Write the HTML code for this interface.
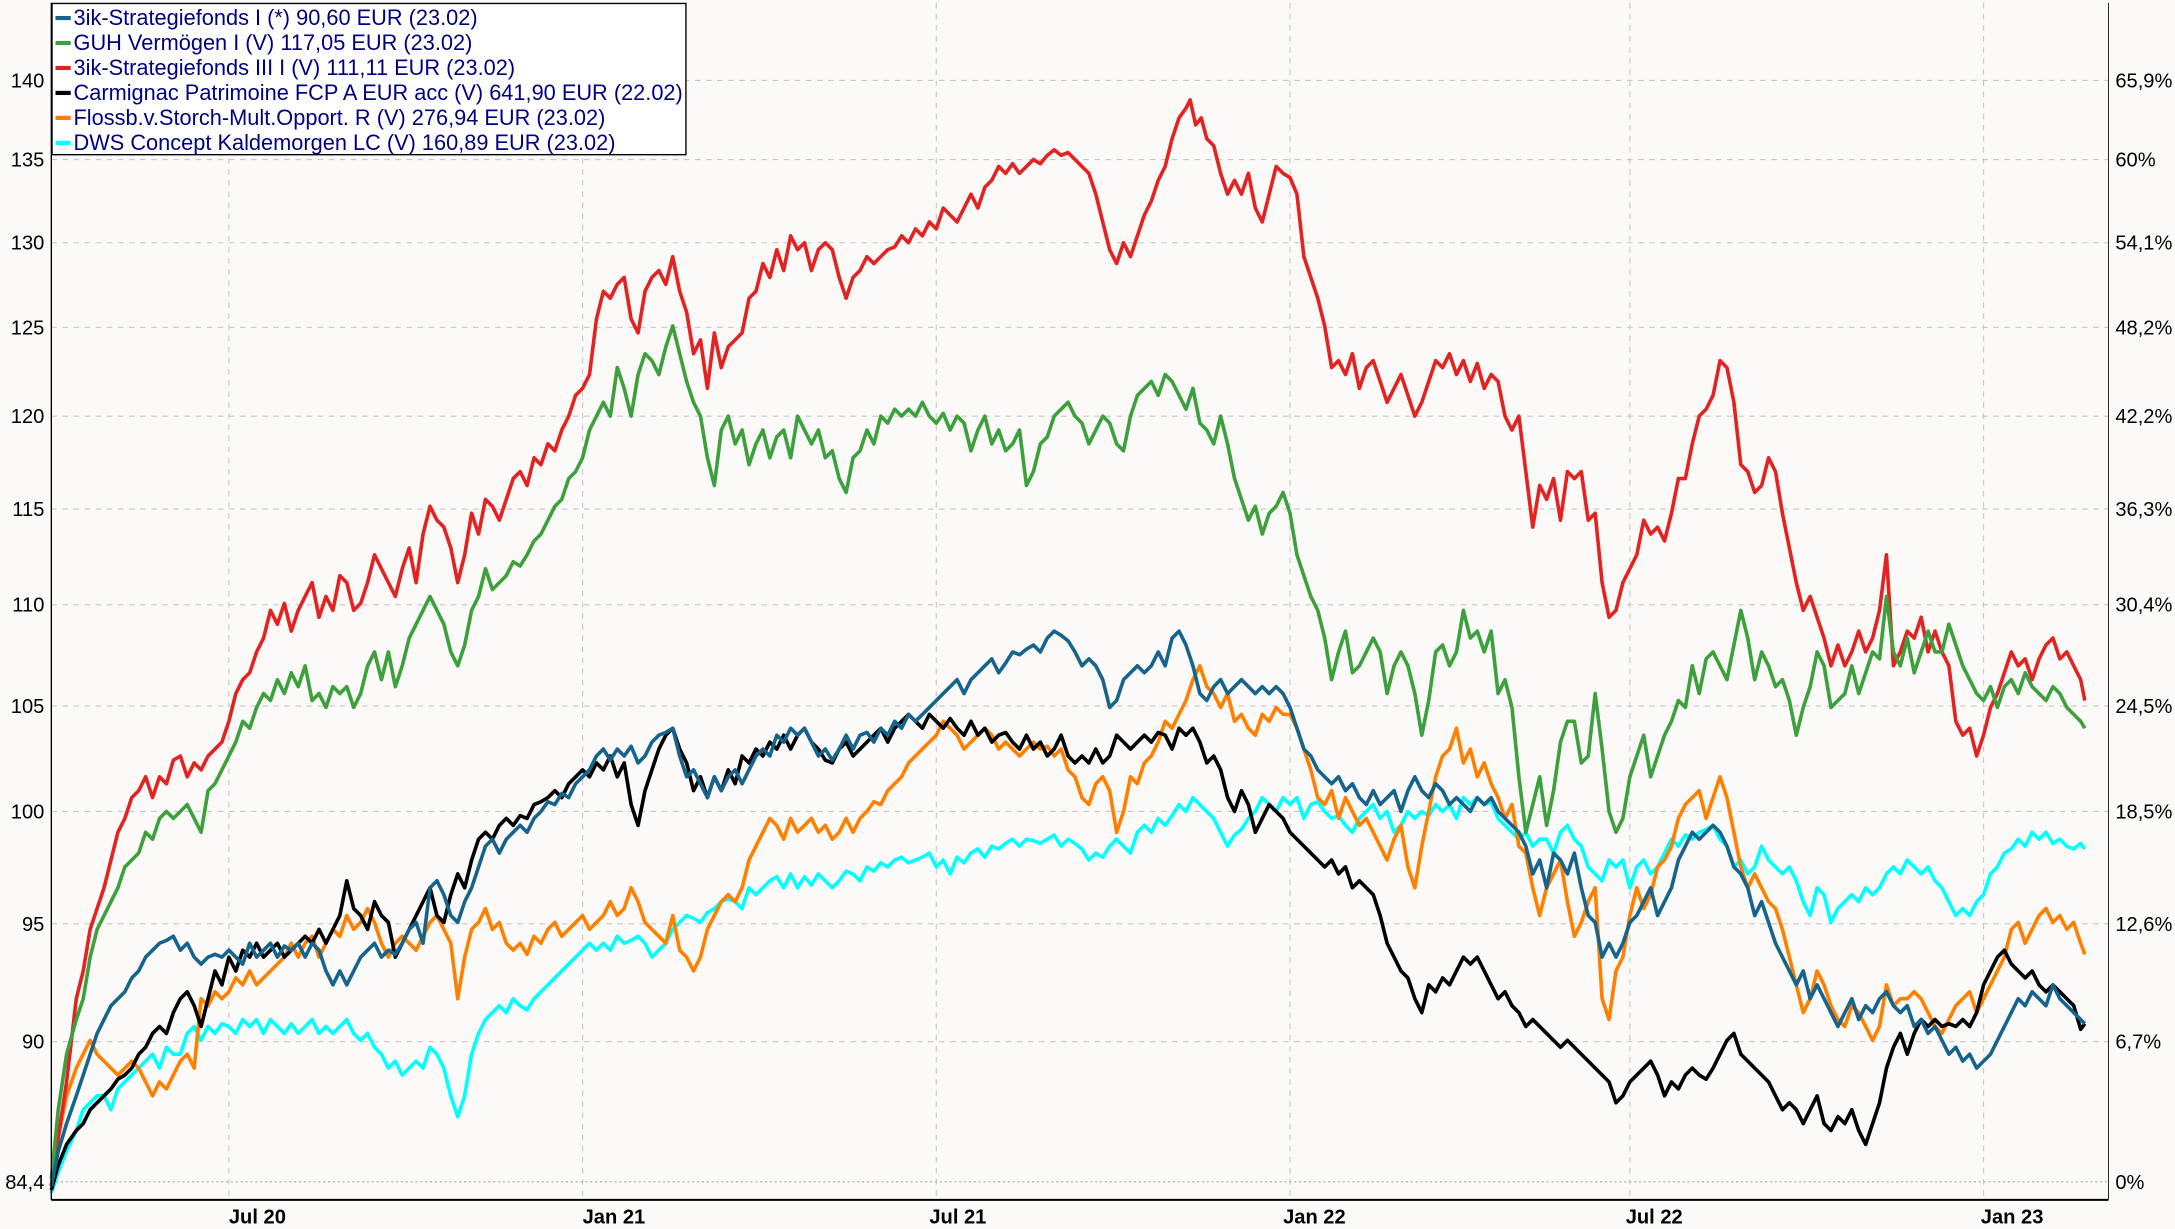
<!DOCTYPE html>
<html><head><meta charset="utf-8"><style>
html,body{margin:0;padding:0;background:#fbfaf8;}
svg{display:block}
text{font-family:"Liberation Sans Narrow","Liberation Sans",sans-serif;}
</style></head><body>
<svg width="2175" height="1229" viewBox="0 0 1568 886" preserveAspectRatio="none" xmlns="http://www.w3.org/2000/svg">
<rect width="1568" height="886" fill="#fbfaf8"/>
<g stroke="#c8c8c8" stroke-width="0.8" stroke-dasharray="4,4">
<line x1="37" x2="1520" y1="58" y2="58"/><line x1="37" x2="1520" y1="115" y2="115"/>
<line x1="37" x2="1520" y1="175" y2="175"/><line x1="37" x2="1520" y1="236" y2="236"/>
<line x1="37" x2="1520" y1="300" y2="300"/><line x1="37" x2="1520" y1="367" y2="367"/>
<line x1="37" x2="1520" y1="436" y2="436"/><line x1="37" x2="1520" y1="509" y2="509"/>
<line x1="37" x2="1520" y1="585" y2="585"/><line x1="37" x2="1520" y1="666" y2="666"/>
<line x1="37" x2="1520" y1="751" y2="751"/>
<line x1="165" x2="165" y1="2" y2="865"/><line x1="420" x2="420" y1="2" y2="865"/>
<line x1="675" x2="675" y1="2" y2="865"/><line x1="930" x2="930" y1="2" y2="865"/>
<line x1="1175" x2="1175" y1="2" y2="865"/><line x1="1430" x2="1430" y1="2" y2="865"/>
</g>
<line x1="37" x2="1520" y1="852" y2="852" stroke="#aaa" stroke-width="0.8" stroke-dasharray="1.5,2"/>
<g fill="none" stroke-width="2.6" stroke-linejoin="round">
<polyline stroke="#00ffff" points="37,860 42,845 48,830 55,815 60,800 65,795 70,790 75,790 80,800 85,785 90,780 95,775 100,770 105,765 110,760 115,770 120,755 125,760 130,760 135,745 140,740 145,750 150,740 155,745 160,738 165,740 170,745 175,735 180,740 185,735 190,745 195,735 200,740 205,745 210,738 215,745 220,740 225,735 230,745 235,740 240,745 245,740 250,735 255,745 260,750 265,745 270,755 275,760 280,770 285,765 290,775 295,770 300,765 305,770 310,755 315,760 320,770 325,790 330,805 335,790 340,760 345,745 350,735 355,730 360,725 365,730 370,720 375,725 380,728 385,720 390,715 395,710 400,705 405,700 410,695 415,690 420,685 425,680 430,685 435,680 440,685 445,675 450,680 455,678 460,675 465,680 470,690 475,685 480,680 485,670 490,665 495,660 500,662 505,665 510,658 515,655 520,650 525,648 530,650 535,655 540,640 545,645 550,640 555,635 560,632 565,640 570,630 575,640 580,632 585,638 590,630 595,635 600,640 605,635 610,628 615,630 620,635 625,625 630,628 635,622 640,625 645,620 650,618 655,622 660,620 665,618 670,615 675,625 680,620 685,630 690,618 695,622 700,615 705,612 710,618 715,610 720,612 725,608 730,605 735,610 740,605 745,606 750,608 755,605 760,602 765,610 770,605 775,608 780,612 785,620 790,615 795,618 800,610 805,605 810,610 815,615 820,600 825,595 830,600 835,590 840,595 845,588 850,580 855,585 860,575 865,580 870,585 875,590 880,600 885,610 890,602 895,598 900,590 905,585 910,575 915,580 920,585 925,575 930,580 935,575 940,590 945,580 950,578 955,585 960,590 965,588 970,595 975,600 980,590 985,585 990,580 995,590 1000,585 1005,600 1010,595 1015,585 1020,590 1025,585 1030,588 1035,580 1040,585 1045,580 1050,590 1055,575 1060,580 1065,575 1070,580 1075,578 1080,590 1085,595 1090,600 1095,605 1100,600 1105,610 1110,605 1115,605 1120,615 1125,600 1130,595 1135,605 1140,610 1145,625 1150,630 1155,635 1160,620 1165,625 1170,620 1175,640 1180,625 1185,620 1190,630 1195,625 1200,615 1205,605 1210,610 1215,602 1220,605 1225,600 1230,598 1235,595 1240,605 1245,610 1250,625 1255,620 1260,630 1265,625 1270,610 1275,620 1280,625 1285,630 1290,625 1295,635 1300,650 1305,660 1310,640 1315,645 1320,665 1325,655 1330,650 1335,645 1340,650 1345,640 1350,645 1355,640 1360,630 1365,625 1370,630 1375,620 1380,625 1385,630 1390,625 1395,635 1400,640 1405,650 1410,660 1415,655 1420,660 1425,650 1430,645 1435,630 1440,625 1445,615 1450,612 1455,605 1460,610 1465,600 1470,605 1475,600 1480,608 1485,605 1490,610 1495,612 1500,608 1503,612"/>
<polyline stroke="#ff8000" points="37,855 42,820 48,790 55,770 60,760 65,750 70,760 75,765 80,770 85,775 90,770 95,765 100,770 105,780 110,790 115,780 120,785 125,775 130,765 135,760 140,770 145,720 150,725 155,715 160,720 165,715 170,705 175,710 180,700 185,710 190,705 195,700 200,695 205,690 210,680 215,690 220,680 225,675 230,690 235,680 240,670 245,675 250,660 255,670 260,665 265,655 270,665 275,680 280,690 285,680 290,675 295,680 300,685 305,675 310,665 315,660 320,670 325,680 330,720 335,690 340,670 345,665 350,655 355,670 360,665 365,680 370,685 375,680 380,688 385,675 390,680 395,670 400,665 405,675 410,670 415,665 420,660 425,670 430,665 435,660 440,650 445,660 450,655 455,640 460,650 465,665 470,670 475,675 480,680 485,660 490,685 495,690 500,700 505,690 510,670 515,660 520,650 525,645 530,650 535,640 540,620 545,610 550,600 555,590 560,595 565,605 570,590 575,600 580,595 585,590 590,600 595,595 600,605 605,600 610,590 615,600 620,590 625,585 630,578 635,580 640,570 645,565 650,560 655,550 660,545 665,540 670,535 675,530 680,520 685,525 690,530 695,540 700,535 705,530 710,525 715,530 720,540 725,535 730,540 735,545 740,540 745,535 750,540 755,538 760,545 765,540 770,555 775,560 780,575 785,580 790,565 795,560 800,570 805,600 810,585 815,560 820,565 825,550 830,545 835,535 840,520 845,525 850,515 855,505 860,490 865,480 870,495 875,500 880,510 885,500 890,520 895,515 900,525 905,530 910,515 915,520 920,510 925,515 930,515 935,525 940,540 945,555 950,575 955,580 960,570 965,590 970,575 975,585 980,595 985,590 990,600 995,610 1000,620 1005,605 1010,595 1015,625 1020,640 1025,610 1030,585 1035,560 1040,545 1045,540 1050,525 1055,550 1060,540 1065,560 1070,550 1075,565 1080,575 1085,590 1090,580 1095,610 1100,615 1105,640 1110,660 1115,640 1120,630 1125,620 1130,650 1135,675 1140,665 1145,650 1150,640 1155,720 1160,735 1165,700 1170,690 1175,660 1180,640 1185,655 1190,645 1195,625 1200,620 1205,610 1210,590 1215,580 1220,575 1225,570 1230,590 1235,575 1240,560 1245,575 1250,600 1255,625 1260,640 1265,630 1270,640 1275,650 1280,655 1285,670 1290,690 1295,710 1300,730 1305,720 1310,700 1315,710 1320,725 1325,735 1330,740 1335,725 1340,730 1345,740 1350,750 1355,740 1360,710 1365,725 1370,720 1375,720 1380,715 1385,720 1390,730 1395,740 1400,745 1405,735 1410,725 1415,720 1420,715 1425,730 1430,720 1435,710 1440,700 1445,690 1450,670 1455,665 1460,680 1465,670 1470,660 1475,655 1480,665 1485,660 1490,670 1495,665 1500,680 1503,688"/>
<polyline stroke="#000000" points="37,858 42,840 48,825 55,815 60,810 65,800 70,795 75,790 80,785 85,778 90,775 95,770 100,760 105,755 110,745 115,740 120,745 125,730 130,720 135,715 140,725 145,740 150,720 155,700 160,710 165,690 170,700 175,685 180,690 185,680 190,690 195,685 200,680 205,690 210,685 215,680 220,675 225,680 230,670 235,680 240,670 245,660 250,635 255,655 260,660 265,670 270,650 275,660 280,665 285,690 290,680 295,670 300,660 305,650 310,640 315,660 320,665 325,645 330,630 335,640 340,620 345,605 350,600 355,605 360,595 365,590 370,595 375,588 380,590 385,580 390,578 395,575 400,570 405,575 410,565 415,560 420,555 425,560 430,550 435,555 440,545 445,560 450,550 455,580 460,595 465,570 470,555 475,540 480,530 485,525 490,540 495,550 500,570 505,560 510,575 515,560 520,570 525,555 530,565 535,545 540,550 545,540 550,545 555,535 560,540 565,530 570,540 575,530 580,525 585,535 590,540 595,548 600,550 605,540 610,535 615,545 620,540 625,535 630,530 635,525 640,535 645,525 650,520 655,515 660,520 665,525 670,515 675,520 680,525 685,518 690,525 695,530 700,520 705,530 710,525 715,535 720,530 725,528 730,535 735,540 740,530 745,540 750,535 755,545 760,540 765,530 770,545 775,550 780,545 785,550 790,540 795,550 800,545 805,530 810,535 815,540 820,535 825,530 830,535 835,528 840,530 845,540 850,525 855,530 860,525 865,535 870,550 875,545 880,555 885,575 890,585 895,570 900,580 905,600 910,590 915,580 920,585 925,590 930,600 935,605 940,610 945,615 950,620 955,625 960,620 965,630 970,625 975,640 980,635 985,640 990,645 995,660 1000,680 1005,690 1010,700 1015,705 1020,720 1025,730 1030,710 1035,715 1040,705 1045,710 1050,700 1055,690 1060,695 1065,690 1070,700 1075,710 1080,720 1085,715 1090,725 1095,730 1100,740 1105,735 1110,740 1115,745 1120,750 1125,755 1130,750 1135,755 1140,760 1145,765 1150,770 1155,775 1160,780 1165,795 1170,790 1175,780 1180,775 1185,770 1190,765 1195,775 1200,790 1205,780 1210,785 1215,775 1220,770 1225,775 1230,778 1235,770 1240,760 1245,750 1250,745 1255,760 1260,765 1265,770 1270,775 1275,780 1280,790 1285,800 1290,795 1295,800 1300,810 1305,800 1310,790 1315,810 1320,815 1325,805 1330,810 1335,800 1340,815 1345,825 1350,810 1355,795 1360,770 1365,755 1370,745 1375,760 1380,745 1385,735 1390,740 1395,735 1400,740 1405,738 1410,740 1415,735 1420,740 1425,730 1430,710 1435,700 1440,690 1445,685 1450,695 1455,700 1460,705 1465,700 1470,710 1475,715 1480,710 1485,715 1490,720 1495,725 1500,742 1503,738"/>
<polyline stroke="#e32222" points="37,855 42,820 48,780 55,720 60,700 65,670 70,655 75,640 80,620 85,600 90,590 95,575 100,570 105,560 110,575 115,560 120,565 125,548 130,545 135,560 140,550 145,555 150,545 155,540 160,535 165,520 170,500 175,490 180,485 185,470 190,460 195,440 200,450 205,435 210,455 215,440 220,430 225,420 230,445 235,430 240,440 245,415 250,420 255,440 260,435 265,420 270,400 275,410 280,420 285,430 290,410 295,395 300,420 305,385 310,365 315,375 320,380 325,395 330,420 335,400 340,370 345,385 350,360 355,365 360,375 365,360 370,345 375,340 380,350 385,330 390,335 395,320 400,325 405,310 410,300 415,285 420,280 425,270 430,230 435,210 440,215 445,205 450,200 455,230 460,240 465,210 470,200 475,195 480,205 485,185 490,210 495,225 500,255 505,245 510,280 515,240 520,265 525,250 530,245 535,240 540,215 545,210 550,190 555,200 560,180 565,195 570,170 575,180 580,175 585,195 590,180 595,175 600,180 605,200 610,215 615,200 620,195 625,185 630,190 635,185 640,180 645,178 650,170 655,175 660,165 665,170 670,160 675,165 680,150 685,155 690,160 695,150 700,140 705,150 710,135 715,130 720,120 725,125 730,118 735,125 740,120 745,115 750,118 755,112 760,108 765,112 770,110 775,115 780,120 785,125 790,140 795,160 800,180 805,190 810,175 815,185 820,170 825,155 830,145 835,130 840,120 845,100 850,85 855,78 858,72 862,90 866,85 870,100 875,105 880,125 885,140 890,130 895,140 900,125 905,150 910,160 915,140 920,120 925,125 930,128 935,140 940,185 945,200 950,215 955,235 960,265 965,260 970,270 975,255 980,280 985,265 990,260 995,275 1000,290 1005,280 1010,270 1015,285 1020,300 1025,290 1030,275 1035,260 1040,265 1045,255 1050,270 1055,260 1060,275 1065,262 1070,280 1075,270 1080,275 1085,300 1090,310 1095,300 1100,340 1105,380 1110,350 1115,360 1120,345 1125,375 1130,340 1135,345 1140,340 1145,375 1150,370 1155,420 1160,445 1165,440 1170,420 1175,410 1180,400 1185,375 1190,385 1195,380 1200,390 1205,370 1210,345 1215,345 1220,320 1225,300 1230,295 1235,285 1240,260 1245,265 1250,290 1255,335 1260,340 1265,355 1270,350 1275,330 1280,340 1285,370 1290,395 1295,420 1300,440 1305,430 1310,445 1315,460 1320,480 1325,465 1330,480 1335,470 1340,455 1345,470 1350,460 1355,440 1360,400 1365,480 1370,470 1375,455 1380,460 1385,445 1390,470 1395,455 1400,470 1405,480 1410,520 1415,530 1420,525 1425,545 1430,530 1435,510 1440,500 1445,485 1450,470 1455,480 1460,475 1465,490 1470,475 1475,465 1480,460 1485,475 1490,470 1495,480 1500,490 1503,505"/>
<polyline stroke="#3ca03c" points="37,850 42,800 48,760 55,735 60,720 65,690 70,670 75,660 80,650 85,640 90,625 95,620 100,615 105,600 110,605 115,590 120,585 125,590 130,585 135,580 140,590 145,600 150,570 155,565 160,555 165,545 170,535 175,520 180,525 185,510 190,500 195,505 200,490 205,500 210,485 215,495 220,480 225,505 230,500 235,510 240,495 245,500 250,495 255,510 260,500 265,480 270,470 275,490 280,470 285,495 290,480 295,460 300,450 305,440 310,430 315,440 320,450 325,470 330,480 335,465 340,440 345,430 350,410 355,425 360,420 365,415 370,405 375,408 380,400 385,390 390,385 395,375 400,365 405,360 410,345 415,340 420,330 425,310 430,300 435,290 440,300 445,265 450,280 455,300 460,270 465,255 470,260 475,270 480,250 485,235 490,255 495,275 500,290 505,300 510,330 515,350 520,310 525,300 530,320 535,310 540,335 545,320 550,310 555,330 560,315 565,310 570,330 575,300 580,310 585,320 590,310 595,330 600,325 605,345 610,355 615,330 620,325 625,310 630,320 635,300 640,305 645,295 650,300 655,295 660,300 665,290 670,300 675,305 680,298 685,310 690,300 695,305 700,325 705,310 710,300 715,320 720,310 725,325 730,320 735,310 740,350 745,340 750,320 755,315 760,300 765,295 770,290 775,300 780,305 785,320 790,310 795,300 800,305 805,320 810,325 815,300 820,285 825,280 830,275 835,285 840,270 845,275 850,285 855,295 860,280 865,305 870,310 875,320 880,300 885,320 890,345 895,360 900,375 905,365 910,385 915,370 920,365 925,355 930,370 935,400 940,415 945,430 950,440 955,460 960,490 965,470 970,455 975,485 980,480 985,470 990,460 995,470 1000,500 1005,480 1010,470 1015,480 1020,500 1025,530 1030,505 1035,470 1040,465 1045,480 1050,470 1055,440 1060,460 1065,455 1070,470 1075,455 1080,500 1085,490 1090,510 1095,560 1100,600 1105,580 1110,560 1115,595 1120,570 1125,535 1130,520 1135,520 1140,550 1145,545 1150,500 1155,540 1160,585 1165,600 1170,590 1175,560 1180,545 1185,530 1190,560 1195,545 1200,530 1205,520 1210,505 1215,510 1220,480 1225,500 1230,475 1235,470 1240,480 1245,490 1250,465 1255,440 1260,460 1265,490 1270,470 1275,480 1280,495 1285,490 1290,505 1295,530 1300,510 1305,495 1310,470 1315,480 1320,510 1325,505 1330,500 1335,480 1340,500 1345,485 1350,470 1355,475 1360,430 1365,470 1370,480 1375,460 1380,485 1385,470 1390,455 1395,470 1400,470 1405,450 1410,465 1415,480 1420,490 1425,500 1430,505 1435,495 1440,510 1445,495 1450,490 1455,500 1460,485 1465,495 1470,500 1475,505 1480,495 1485,500 1490,510 1495,515 1500,520 1503,525"/>
<polyline stroke="#16648c" points="37,855 42,830 48,810 55,790 60,775 65,760 70,745 75,735 80,725 85,720 90,715 95,705 100,700 105,690 110,685 115,680 120,678 125,675 130,685 135,680 140,690 145,695 150,690 155,688 160,690 165,685 170,690 175,695 180,680 185,690 190,685 195,680 200,690 205,682 210,685 215,680 220,690 225,680 230,685 235,700 240,710 245,700 250,710 255,700 260,690 265,685 270,680 275,690 280,685 285,688 290,680 295,670 300,665 305,680 310,640 315,635 320,645 325,660 330,665 335,650 340,640 345,625 350,610 355,605 360,615 365,605 370,600 375,595 380,600 385,590 390,585 395,578 400,580 405,572 410,575 415,565 420,560 425,555 430,545 435,540 440,548 445,540 450,545 455,538 460,550 465,545 470,535 475,530 480,528 485,525 490,545 495,560 500,555 505,565 510,575 515,560 520,570 525,560 530,555 535,565 540,555 545,545 550,540 555,545 560,530 565,535 570,525 575,530 580,525 585,535 590,545 595,540 600,548 605,540 610,530 615,540 620,530 625,528 630,535 635,525 640,530 645,520 650,525 655,515 660,520 665,515 670,510 675,505 680,500 685,495 690,490 695,500 700,490 705,485 710,480 715,475 720,485 725,478 730,470 735,472 740,468 745,465 750,470 755,460 760,455 765,458 770,462 775,470 780,480 785,475 790,480 795,490 800,510 805,505 810,490 815,485 820,480 825,485 830,480 835,470 840,480 845,460 850,455 855,465 860,480 865,500 870,505 875,495 880,490 885,500 890,495 895,490 900,495 905,500 910,495 915,500 920,495 925,500 930,510 935,525 940,540 945,545 950,555 955,560 960,565 965,560 970,570 975,565 980,575 985,580 990,570 995,580 1000,575 1005,570 1010,585 1015,570 1020,560 1025,570 1030,575 1035,565 1040,570 1045,580 1050,575 1055,580 1060,585 1065,575 1070,580 1075,575 1080,585 1085,590 1090,595 1095,600 1100,610 1105,630 1110,620 1115,640 1120,615 1125,620 1130,630 1135,615 1140,640 1145,660 1150,665 1155,690 1160,680 1165,690 1170,680 1175,665 1180,660 1185,650 1190,640 1195,660 1200,650 1205,640 1210,620 1215,610 1220,600 1225,605 1230,600 1235,595 1240,600 1245,610 1250,625 1255,630 1260,640 1265,660 1270,650 1275,665 1280,680 1285,690 1290,700 1295,710 1300,700 1305,720 1310,710 1315,720 1320,730 1325,740 1330,730 1335,720 1340,735 1345,725 1350,730 1355,720 1360,715 1365,725 1370,730 1375,725 1380,740 1385,735 1390,745 1395,740 1400,750 1405,760 1410,755 1415,765 1420,760 1425,770 1430,765 1435,760 1440,750 1445,740 1450,730 1455,720 1460,725 1465,715 1470,720 1475,725 1480,710 1485,720 1490,725 1495,730 1500,735 1503,738"/>
</g>
<line x1="37" x2="37" y1="2" y2="865" stroke="#000" stroke-width="1"/>
<line x1="37" x2="1520" y1="865" y2="865" stroke="#000" stroke-width="1.5"/>
<line x1="1520" x2="1520" y1="2" y2="865" stroke="#000" stroke-width="0.6"/>
<g font-size="14.5" fill="#000" text-anchor="end">
<text x="32" y="63">140</text><text x="32" y="120">135</text><text x="32" y="180">130</text>
<text x="32" y="241">125</text><text x="32" y="305">120</text><text x="32" y="372">115</text>
<text x="32" y="441">110</text><text x="32" y="514">105</text><text x="32" y="590">100</text>
<text x="32" y="671">95</text><text x="32" y="756">90</text><text x="32" y="857">84,4</text>
</g>
<g font-size="14.5" fill="#000">
<text x="1525" y="63">65,9%</text><text x="1525" y="120">60%</text><text x="1525" y="180">54,1%</text>
<text x="1525" y="241">48,2%</text><text x="1525" y="305">42,2%</text><text x="1525" y="372">36,3%</text>
<text x="1525" y="441">30,4%</text><text x="1525" y="514">24,5%</text><text x="1525" y="590">18,5%</text>
<text x="1525" y="671">12,6%</text><text x="1525" y="756">6,7%</text><text x="1525" y="857">0%</text>
</g>
<g font-size="14.5" fill="#000" font-weight="bold">
<text x="165" y="882">Jul 20</text><text x="420" y="882">Jan 21</text><text x="670" y="882">Jul 21</text>
<text x="925" y="882">Jan 22</text><text x="1172" y="882">Jul 22</text><text x="1428" y="882">Jan 23</text>
</g>
<rect x="37.5" y="2.5" width="457" height="109" fill="#fff" stroke="#000" stroke-width="1"/>
<g stroke-width="3">
<line x1="40" x2="51" y1="13" y2="13" stroke="#16648c"/>
<line x1="40" x2="51" y1="31" y2="31" stroke="#3ca03c"/>
<line x1="40" x2="51" y1="49" y2="49" stroke="#e32222"/>
<line x1="40" x2="51" y1="67" y2="67" stroke="#000"/>
<line x1="40" x2="51" y1="85" y2="85" stroke="#ff8000"/>
<line x1="40" x2="51" y1="103" y2="103" stroke="#00ffff"/>
</g>
<g font-size="15.7" fill="#000080" font-family="Liberation Sans, sans-serif">
<text x="53" y="18">3ik-Strategiefonds I (*) 90,60 EUR (23.02)</text>
<text x="53" y="36">GUH Vermögen I (V) 117,05 EUR (23.02)</text>
<text x="53" y="54">3ik-Strategiefonds III I (V) 111,11 EUR (23.02)</text>
<text x="53" y="72">Carmignac Patrimoine FCP A EUR acc (V) 641,90 EUR (22.02)</text>
<text x="53" y="90">Flossb.v.Storch-Mult.Opport. R (V) 276,94 EUR (23.02)</text>
<text x="53" y="108">DWS Concept Kaldemorgen LC (V) 160,89 EUR (23.02)</text>
</g>
</svg>
</body></html>
